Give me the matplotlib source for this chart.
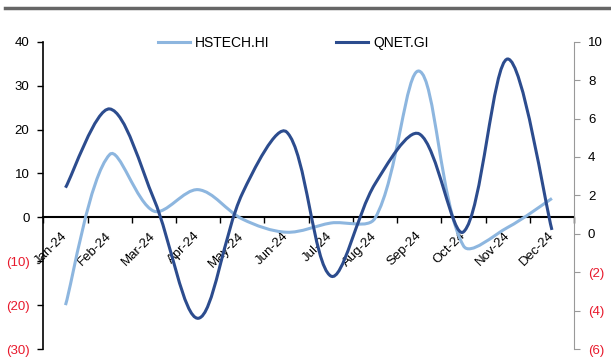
import matplotlib
matplotlib.use("Agg")
import matplotlib.pyplot as plt
from matplotlib.path import Path
from matplotlib.patches import PathPatch
from matplotlib.lines import Line2D
import numpy as np

plt.rcParams['font.family'] = ['Liberation Sans', 'DejaVu Sans']

months = ["Jan-24", "Feb-24", "Mar-24", "Apr-24", "May-24", "Jun-24",
          "Jul-24", "Aug-24", "Sep-24", "Oct-24", "Nov-24", "Dec-24"]
hstech = [-20.0, 14.3, 1.4, 6.3, -0.4, -3.4, -1.3, -0.2, 33.3, -6.5, -2.3, 4.3]
qnet = [2.4, 6.5, 1.8, -4.4, 2.1, 5.3, -2.2, 2.6, 5.2, 0.1, 9.1, 0.2]

left_ticks = [40, 30, 20, 10, 0, -10, -20, -30]
right_ticks = [10, 8, 6, 4, 2, 0, -2, -4, -6]

LIGHT = '#8DB6DF'
DARK = '#2C4C8E'


def smooth_path(axis, xs, ys, f=1/6):
    """Catmull-Rom style Bezier whose tangent is split by adjacent chord lengths."""
    tr = axis.transData
    pts = tr.transform(np.column_stack([xs, ys]).astype(float))
    n = len(pts)
    seg = np.linalg.norm(np.diff(pts, axis=0), axis=1)
    c_in = [None] * n
    c_out = [None] * n
    for i in range(n):
        a = pts[i - 1] if i > 0 else pts[i]
        b = pts[i + 1] if i < n - 1 else pts[i]
        t = (b - a) * f
        dp = seg[i - 1] if i > 0 else 0.0
        dn = seg[i] if i < n - 1 else 0.0
        if i == 0 or i == n - 1:
            c_in[i] = pts[i] - t
            c_out[i] = pts[i] + t
        else:
            c_in[i] = pts[i] - t * 2 * dp / (dp + dn)
            c_out[i] = pts[i] + t * 2 * dn / (dp + dn)
    verts = [pts[0]]
    codes = [Path.MOVETO]
    for i in range(n - 1):
        verts += [c_out[i], c_in[i + 1], pts[i + 1]]
        codes += [Path.CURVE4] * 3
    verts = tr.inverted().transform(np.array(verts))
    return Path(verts, codes)


def fmt(v):
    return f"({abs(v)})" if v < 0 else f"{v}"


fig = plt.figure(figsize=(6.11, 3.58), dpi=100)
ax = fig.add_axes([0.071, 0.0251, 0.8685, 0.8584])
ax2 = ax.twinx()

ax.set_xlim(-0.5, len(months) - 0.5)
ax.set_ylim(-30, 40)
ax2.set_ylim(-6, 10)

x = np.arange(len(months))
ax.add_patch(PathPatch(smooth_path(ax, x, hstech), fill=False, edgecolor=LIGHT, lw=2.2, zorder=3))
ax2.add_patch(PathPatch(smooth_path(ax2, x, qnet), fill=False, edgecolor=DARK, lw=2.2, zorder=3))

# left axis
ax.set_yticks(left_ticks)
ax.set_yticklabels([fmt(v) for v in left_ticks], fontsize=9.5)
ax.tick_params(axis='y', direction='out', length=4, width=1, pad=6, colors='black')
for lab, v in zip(ax.get_yticklabels(), left_ticks):
    lab.set_color('#E8192C' if v < 0 else 'black')
ax.spines['left'].set_color('black')
ax.spines['left'].set_linewidth(1.2)

# right axis
ax2.set_yticks(right_ticks)
ax2.set_yticklabels([fmt(v) for v in right_ticks], fontsize=9.5)
ax2.tick_params(axis='y', direction='out', length=4, width=0.8, pad=6, color='#999999')
for lab, v in zip(ax2.get_yticklabels(), right_ticks):
    lab.set_color('#E8192C' if v < 0 else 'black')
ax2.spines['right'].set_color('#999999')
for s in ['top', 'left', 'bottom']:
    ax2.spines[s].set_visible(False)

# x axis at zero
for s in ['top', 'right']:
    ax.spines[s].set_visible(False)
ax.spines['bottom'].set_position(('data', 0))
ax.spines['bottom'].set_linewidth(1.5)
ax.spines['bottom'].set_zorder(2)
ax.set_xticks(np.arange(len(months) + 1) - 0.5)
ax.set_xticklabels([])
ax.tick_params(axis='x', which='major', direction='out', length=4, width=1)
ax.set_xticks(x, minor=True)
ax.set_xticklabels(months, minor=True, rotation=45, ha='right', va='center',
                   rotation_mode='anchor', fontsize=9.5)
ax.tick_params(axis='x', which='minor', length=0, pad=12)

# legend
handles = [Line2D([], [], color=LIGHT, lw=2.2), Line2D([], [], color=DARK, lw=2.2)]
fig.legend(handles, ["HSTECH.HI", "QNET.GI"], loc='center left',
           bbox_to_anchor=(158 / 611, 1 - 43 / 358),
           ncol=2, frameon=False, fontsize=10, handlelength=2.3, handletextpad=0.36,
           columnspacing=4.8, borderpad=0, borderaxespad=0)

# top rule
fig.add_artist(Line2D([0.008, 1.0], [0.978, 0.978], color='#666666', lw=2.5,
                      transform=fig.transFigure))

fig.savefig('out.png', dpi=100)
